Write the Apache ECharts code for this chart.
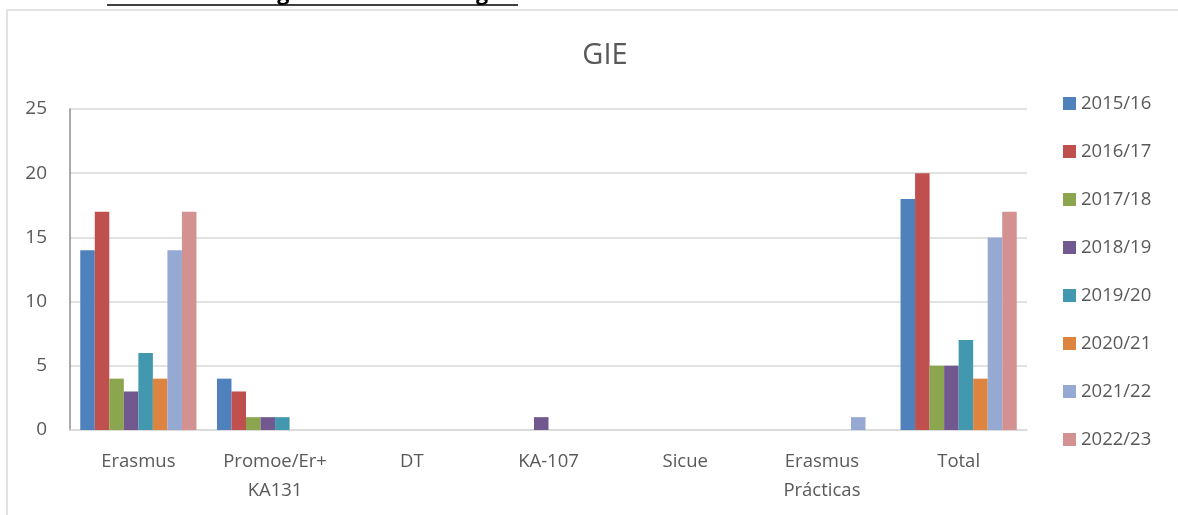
<!DOCTYPE html>
<html>
<head>
<meta charset="utf-8">
<script src="https://cdn.jsdelivr.net/npm/echarts@6/dist/echarts.min.js"></script>
<style>
  html, body { margin: 0; padding: 0; background: #fff; }
  #chart { width: 1178px; height: 515px; }
</style>
</head>
<body>
<div id="chart"></div>
<script>
// datos
const categories = ['Erasmus', 'Promoe/Er+\nKA131', 'DT', 'KA-107', 'Sicue', 'Erasmus\nPrácticas', 'Total'];
const years = ['2015/16', '2016/17', '2017/18', '2018/19', '2019/20', '2020/21', '2021/22', '2022/23'];
const v2015 = [14, 4, 0, 0, 0, 0, 18];
const v2016 = [17, 3, 0, 0, 0, 0, 20];
const v2017 = [4, 1, 0, 0, 0, 0, 5];
const v2018 = [3, 1, 0, 1, 0, 0, 5];
const v2019 = [6, 1, 0, 0, 0, 0, 7];
const v2020 = [4, 0, 0, 0, 0, 0, 4];
const v2021 = [14, 0, 0, 0, 0, 1, 15];
const v2022 = [17, 0, 0, 0, 0, 0, 17];
const yTicks = [0, 5, 10, 15, 20, 25];

const values = [v2015, v2016, v2017, v2018, v2019, v2020, v2021, v2022];
const colors = ['#4F81BD', '#C0504D', '#8BA64E', '#71588F', '#4299AF', '#DD8441', '#95A9D2', '#D39291'];
const font = '"Open Sans", "Noto Sans", sans-serif';

const myChart = echarts.init(document.getElementById('chart'));

const option = {
  animation: false,
  color: colors,
  title: {
    text: 'GIE',
    left: 600,
    top: 36,
    textAlign: 'center',
    textStyle: { fontFamily: font, fontSize: 29, fontWeight: 'normal', color: '#595959' }
  },
  graphic: [
    // marco exterior
    { type: 'line', shape: { x1: 7, y1: 10, x2: 1178, y2: 10 }, style: { stroke: '#d9d9d9', lineWidth: 1.5 } },
    { type: 'line', shape: { x1: 7, y1: 10, x2: 7, y2: 515 }, style: { stroke: '#d9d9d9', lineWidth: 1.5 } },
    // encabezado cortado arriba
    {
      type: 'text', left: 107, top: -17,
      style: { text: 'G.2. Grado en Ingeniería de la Energía', font: 'bold 21.5px ' + font, fill: '#000' }
    },
    { type: 'line', shape: { x1: 107, y1: 5, x2: 518, y2: 5 }, style: { stroke: '#000', lineWidth: 1.5 } }
  ],
  legend: {
    orient: 'vertical',
    left: 1058,
    top: 89,
    itemWidth: 13,
    itemHeight: 13,
    itemGap: 29,
    icon: 'rect',
    textStyle: { fontFamily: font, fontSize: 18.5, color: '#595959' },
    data: years
  },
  grid: { left: 70, right: 151, top: 109, bottom: 85 },
  xAxis: {
    type: 'category',
    data: categories,
    axisLine: { lineStyle: { color: '#d9d9d9', width: 1.5 } },
    axisTick: { show: false },
    axisLabel: { fontFamily: font, fontSize: 18.5, color: '#595959', margin: 17, lineHeight: 29, interval: 0 }
  },
  yAxis: {
    type: 'value',
    min: yTicks[0],
    max: yTicks[yTicks.length - 1],
    interval: 5,
    axisLine: { show: true, lineStyle: { color: '#8c8c8c', width: 1.5 } },
    axisLabel: { fontFamily: font, fontSize: 19, color: '#595959', margin: 23 },
    splitLine: { lineStyle: { color: '#d9d9d9', width: 1.5 } }
  },
  series: years.map((y, i) => ({
    name: y,
    type: 'bar',
    data: values[i],
    barGap: '0%',
    barCategoryGap: '15%',
    itemStyle: { color: colors[i] }
  }))
};

myChart.setOption(option);
</script>
</body>
</html>
